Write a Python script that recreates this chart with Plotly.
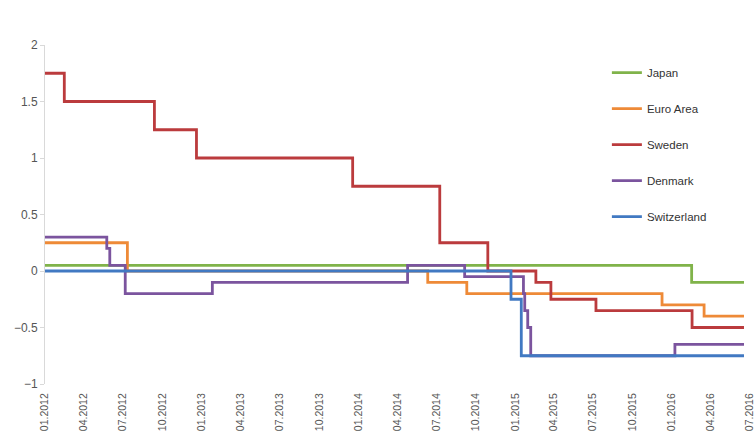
import plotly.graph_objects as go

end_date = "2016-06-17"

japan_dates = ["2012-01-01", "2016-02-16", end_date]
japan_rates = [0.05, -0.10, -0.10]

euro_dates = ["2012-01-01", "2012-07-11", "2014-06-11", "2014-09-10", "2015-12-09", "2016-03-16", end_date]
euro_rates = [0.25, 0.00, -0.10, -0.20, -0.30, -0.40, -0.40]

sweden_dates = ["2012-01-01", "2012-02-15", "2012-09-12", "2012-12-19", "2013-12-18", "2014-07-09",
                "2014-10-29", "2015-02-18", "2015-03-25", "2015-07-08", "2016-02-17", end_date]
sweden_rates = [1.75, 1.50, 1.25, 1.00, 0.75, 0.25, 0.00, -0.10, -0.25, -0.35, -0.50, -0.50]

denmark_dates = ["2012-01-01", "2012-05-24", "2012-05-31", "2012-07-06", "2013-01-25", "2014-04-25",
                 "2014-09-05", "2015-01-20", "2015-01-23", "2015-01-30", "2015-02-06", "2016-01-08", end_date]
denmark_rates = [0.30, 0.20, 0.05, -0.20, -0.10, 0.05, -0.05, -0.20, -0.35, -0.50, -0.75, -0.65, -0.65]

swiss_dates = ["2012-01-01", "2014-12-22", "2015-01-15", end_date]
swiss_rates = [0.00, -0.25, -0.75, -0.75]

series = [
    ("Japan", japan_dates, japan_rates, "#80b34a"),
    ("Euro Area", euro_dates, euro_rates, "#ee8a37"),
    ("Sweden", sweden_dates, sweden_rates, "#bb3b3d"),
    ("Denmark", denmark_dates, denmark_rates, "#7b549e"),
    ("Switzerland", swiss_dates, swiss_rates, "#4179c2"),
]

fig = go.Figure()
for name, d, v, c in series:
    fig.add_trace(go.Scatter(
        x=d, y=v, name=name, mode="lines",
        line=dict(color=c, width=2.8, shape="hv"),
        legendgroup=name,
    ))

xrange = ["2012-01-01", "2016-07-01"]

fig.update_layout(
    width=756, height=435,
    margin=dict(l=45, r=6, t=45, b=51, autoexpand=False),
    paper_bgcolor="white", plot_bgcolor="white",
    font=dict(family="Liberation Sans, Arial, sans-serif", color="#555555", size=12),
    showlegend=True,
    legend=dict(
        x=0.797, y=0.961, xanchor="left", yanchor="top",
        bgcolor="rgba(0,0,0,0)", traceorder="grouped", tracegroupgap=17,
        font=dict(size=11.5, color="#333333"),
    ),
    xaxis=dict(
        type="date", range=xrange, tick0="2012-01-01", dtick="M3",
        tickformat="%m.%Y", tickangle=-90, showgrid=False, zeroline=False,
        showline=False, ticks="outside", ticklen=4, tickcolor="rgba(0,0,0,0)",
        tickfont=dict(size=10.5, color="#555555"), automargin=False,
    ),
    xaxis2=dict(
        type="date", range=xrange, tick0="2012-01-01", dtick="M3",
        overlaying="x", anchor="free", position=1/3, matches="x",
        showticklabels=False, showgrid=False, zeroline=False,
        showline=True, linecolor="#d0d0d0", linewidth=1,
        ticks="outside", ticklen=4, tickcolor="#d0d0d0", automargin=False,
    ),
    yaxis=dict(
        range=[-1, 2], dtick=0.5, tick0=0, showgrid=False, zeroline=False,
        showline=True, linecolor="#d9d9d9", linewidth=1,
        ticks="outside", ticklen=4, tickcolor="#d9d9d9",
        tickfont=dict(size=12, color="#555555"), automargin=False,
    ),
)

fig.write_html("out.html", config={"displayModeBar": False},
               post_script="document.body.style.margin='0';document.body.style.overflow='hidden';")
